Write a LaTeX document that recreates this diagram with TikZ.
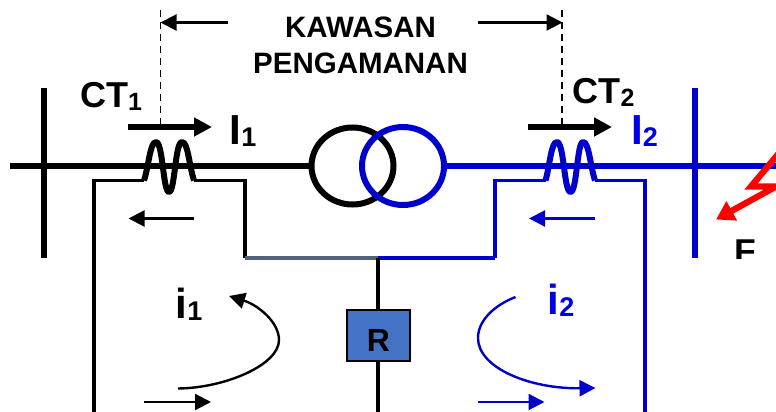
\documentclass[tikz,border=0pt]{standalone}
\usepackage{fontspec}
\setmainfont{Liberation Sans}[BoldFont={Liberation Sans Bold}]
\usetikzlibrary{arrows.meta}
\definecolor{bluelin}{RGB}{0,0,204}
\definecolor{bluetxt}{RGB}{0,0,230}
\definecolor{rfill}{RGB}{68,114,196}
\definecolor{slate}{RGB}{80,98,128}
\newcommand{\labct}[2]{{\fontsize{36}{36}\selectfont\bfseries #1\raisebox{-3pt}{\fontsize{25}{25}\selectfont #2}}}
\newcommand{\labi}[2]{{\fontsize{42}{42}\selectfont\bfseries #1\raisebox{-2pt}{\fontsize{27}{27}\selectfont #2}}}
\tikzset{
  txt/.style={inner sep=0pt,anchor=base west},
  bus/.style={line width=6pt},
  mainl/.style={line width=6pt},
  sec/.style={line width=3.6pt,line join=miter},
  coil/.style={line width=6pt,line join=round},
  bigarrow/.style={line width=6pt,-{Triangle[length=18pt,width=18pt]}},
  thinarrow/.style={line width=2.2pt,-{Triangle[length=16pt,width=16pt]}},
  limit/.style={line width=1.7pt,dash pattern=on 7pt off 5pt},
  curl/.style={line width=2.4pt,-{Triangle[length=16pt,width=16pt]}}
}
\begin{document}
\begin{tikzpicture}[x=1pt,y=-1pt]
\useasboundingbox (0,0) rectangle (776,412);
\clip (0,0) rectangle (776,412);
% named points
\coordinate (busAt) at (44,88);   \coordinate (busAb) at (44,258);
\coordinate (busBt) at (695,88);  \coordinate (busBb) at (695,258);
\coordinate (lineL) at (10,166);  \coordinate (lineR) at (790,166);
\coordinate (tl) at (310,166);    \coordinate (tr) at (445,166);
\coordinate (cA1) at (144,180.5); \coordinate (cA2) at (194,180.5);
\coordinate (cB1) at (545.5,180.5); \coordinate (cB2) at (595,180.5);
\coordinate (sAl) at (94,180.5);  \coordinate (sAlb) at (94,420);
\coordinate (sAr) at (245,180.5); \coordinate (sAb) at (245,258);
\coordinate (sBl) at (495,180.5); \coordinate (sBb) at (495,258);
\coordinate (sBr) at (645,180.5); \coordinate (sBrb) at (645,420);
\coordinate (mid) at (378,258);   \coordinate (midb) at (378,420);
% buses and main line
\draw[bus] (busAt) -- (busAb);
\draw[bus,bluelin] (busBt) -- (busBb);
\draw[mainl] (lineL) -- (tl);
\draw[mainl,bluelin] (tr) -- (lineR);
% transformer
\draw[line width=6pt] (352.5,166) ellipse [x radius=41,y radius=38.5];
\draw[line width=6pt,bluelin] (403,166) ellipse [x radius=41,y radius=39];
% secondary circuits
\draw[sec] (sAlb) -- (sAl) -- (cA1);
\draw[sec] (cA2) -- (sAr) -- (sAb);
\draw[sec,slate] (sAb) -- (mid);
\draw[sec,bluelin] (mid) -- (sBb);
\draw[sec,bluelin] (sBb) -- (sBl) -- (cB1);
\draw[sec,bluelin] (cB2) -- (sBr) -- (sBrb);
\draw[line width=4pt] (mid) -- (midb);
% coils
\draw[coil] (cA1) .. controls (149,165) and (150,142) .. (156,142)
  .. controls (163,142) and (163,192) .. (169,192)
  .. controls (175,192) and (175,142) .. (182,142)
  .. controls (188,142) and (189,165) .. (cA2);
\draw[coil,bluelin] (cB1) .. controls (550,165) and (551,142) .. (557,142)
  .. controls (564,142) and (564,192) .. (570.5,192)
  .. controls (577,192) and (577,142) .. (583,142)
  .. controls (589,142) and (590,165) .. (cB2);
% protection zone limits
\coordinate (dAt) at (160.5,10); \coordinate (dAb) at (160.5,127);
\coordinate (dBt) at (562,10);   \coordinate (dBb) at (562,127);
\draw[limit] (dAt) -- (dAb);
\draw[limit] (dBt) -- (dBb);
\coordinate (zAs) at (228,22.5); \coordinate (zBs) at (478,22.5);
\coordinate (zAe) at (160.5,22.5); \coordinate (zBe) at (562.5,22.5);
\draw[thinarrow] (zAs) -- (zAe);
\draw[thinarrow] (zBs) -- (zBe);
% primary current arrows
\coordinate (pAs) at (128,127); \coordinate (pAe) at (212,127);
\coordinate (pBs) at (528,127); \coordinate (pBe) at (612,127);
\draw[bigarrow] (pAs) -- (pAe);
\draw[bigarrow] (pBs) -- (pBe);
% secondary current arrows
\coordinate (a1s) at (194,218.5); \coordinate (a1e) at (128.5,218.5);
\coordinate (a2s) at (595,218.5); \coordinate (a2e) at (529,218.5);
\coordinate (a3s) at (144,402);   \coordinate (a3e) at (211,402);
\coordinate (a4s) at (478,402);   \coordinate (a4e) at (544.5,402);
\draw[thinarrow] (a1s) -- (a1e);
\draw[thinarrow,bluelin] (a2s) -- (a2e);
\draw[thinarrow] (a3s) -- (a3e);
\draw[thinarrow,bluelin] (a4s) -- (a4e);
% circulating currents
\coordinate (c1s) at (178,388.5); \coordinate (c1e) at (229,296);
\coordinate (c2s) at (515.5,297); \coordinate (c2e) at (595.5,388);
\draw[curl] (c1s) .. controls (225,388) and (279,365) .. (279,340)
  .. controls (279,322) and (258,305) .. (c1e);
\draw[curl,bluelin] (c2s) .. controls (495,305) and (478,320) .. (478,338)
  .. controls (478,368) and (530,389) .. (c2e);
% relay
\node[draw,fill=rfill,line width=2.4pt,minimum width=63pt,inner sep=0pt,text height=42pt,text depth=9.5pt,
      font=\fontsize{32}{32}\selectfont\bfseries] (relay) at (378.5,335.5) {R};
% fault
\coordinate (fa) at (785,146); \coordinate (fb) at (751,186.5);
\coordinate (fc) at (776,186.5); \coordinate (fd) at (716,219.5);
\draw[red,line width=6.3pt,line join=miter,-{Triangle[length=18pt,width=21pt]}] (fa) -- (fb) -- (fc) -- (fd);
\begin{scope}
\clip (700,230) rectangle (776,258);
\node[txt,font=\fontsize{33}{33}\selectfont\bfseries,xscale=1.08] (flt) at (734,262) {F};
\end{scope}
% labels
\node[font=\fontsize{29.5}{36}\selectfont\bfseries,align=center,inner sep=0pt] (zone) at (360.5,45) {KAWASAN\\PENGAMANAN};
\node[txt] (ct1) at (80,107) {\labct{CT}{1}};
\node[txt] (ct2) at (572.5,103) {\labct{CT}{2}};
\node[txt] (I1) at (229.5,144) {\labi{I}{1}};
\node[txt,text=bluetxt] (I2) at (631,144) {\labi{I}{2}};
\node[txt] (i1) at (175.5,318) {\labi{i}{1}};
\node[txt,text=bluetxt] (i2) at (547.5,314) {\labi{i}{2}};
\end{tikzpicture}
\end{document}
